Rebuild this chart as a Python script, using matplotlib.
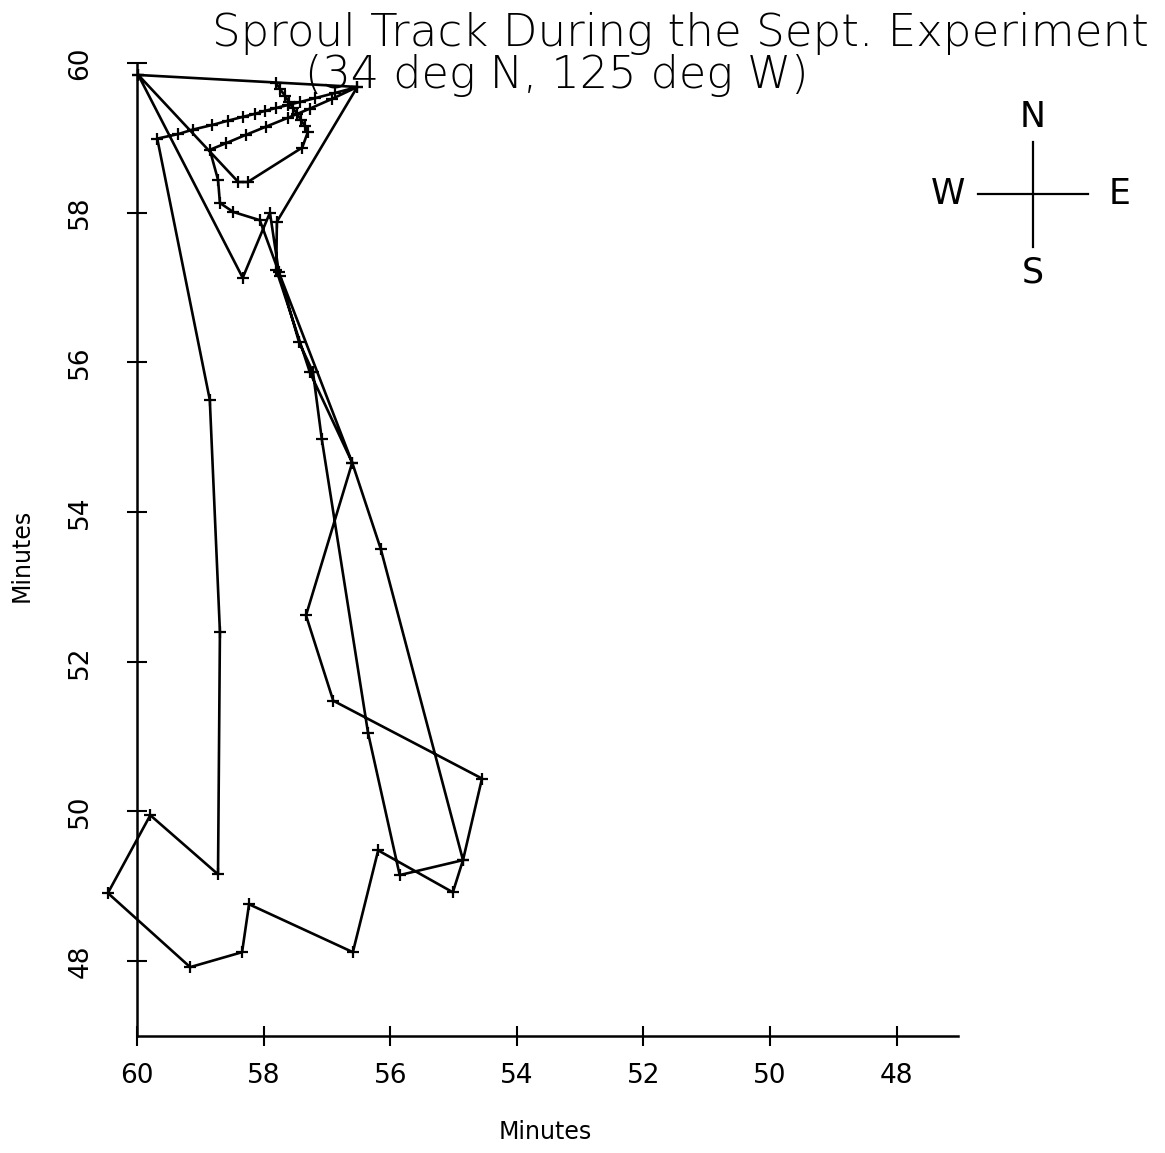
import matplotlib
matplotlib.use("Agg")

import matplotlib.pyplot as plt
from matplotlib.lines import Line2D

# ship position in minutes (west longitude, north latitude), in time order
track_lon = [
    59.98, 58.33, 57.90, 57.76, 57.44, 57.22, 57.08, 56.35, 55.85, 54.85,
    56.15, 56.60, 57.27, 57.80, 57.79, 56.52, 56.92, 57.27, 57.61, 57.96,
    58.28, 58.59, 58.85, 58.72, 58.69, 58.48, 58.06, 57.74, 56.60, 57.33,
    56.90, 54.55, 54.85, 55.01, 56.19, 56.59, 58.23, 58.34, 59.16, 60.46,
    59.79, 58.72, 58.69, 58.85, 59.68, 59.35, 59.12, 58.82, 58.56, 58.33,
    58.14, 57.98, 57.80, 57.61, 57.42, 57.19, 56.87, 56.52, 59.98, 58.40,
    58.25, 57.39, 57.30, 57.35, 57.41, 57.47, 57.54, 57.60, 57.66, 57.74,
    57.80,
]
track_lat = [
    59.84, 57.13, 58.00, 57.21, 56.27, 55.87, 54.97, 51.05, 49.15, 49.35,
    53.51, 54.66, 55.87, 57.24, 57.88, 59.68, 59.52, 59.39, 59.27, 59.15,
    59.04, 58.93, 58.84, 58.44, 58.13, 58.01, 57.90, 57.16, 54.66, 52.62,
    51.48, 50.44, 49.35, 48.92, 49.48, 48.12, 48.76, 48.12, 47.92, 48.91,
    49.95, 49.16, 52.40, 55.50, 58.99, 59.05, 59.11, 59.17, 59.23, 59.28,
    59.32, 59.36, 59.40, 59.44, 59.48, 59.53, 59.60, 59.68, 59.84, 58.41,
    58.41, 58.87, 59.08, 59.16, 59.24, 59.32, 59.40, 59.48, 59.56, 59.65,
    59.73,
]

x_ticks = [60, 58, 56, 54, 52, 50, 48]
y_ticks = [48, 50, 52, 54, 56, 58, 60]

W, H = 1165, 1153
fig = plt.figure(figsize=(W / 100, H / 100), dpi=100)
ax = fig.add_axes([137 / W, 1 - 1036 / H, 821 / W, 973 / H])

ax.plot(track_lon, track_lat, color="black", lw=1.9, marker="+",
        ms=8, mew=1.6, clip_on=False)

ax.set_xlim(60, 47.03)
ax.set_ylim(47.0, 60)
ax.set_xticks(x_ticks)
ax.set_yticks(y_ticks)
ax.set_xticklabels([str(v) for v in x_ticks])
ax.set_yticklabels([str(v) for v in y_ticks], rotation=90, va="center")

for side in ["top", "right"]:
    ax.spines[side].set_visible(False)
for side in ["left", "bottom"]:
    ax.spines[side].set_linewidth(1.8)

ax.tick_params(direction="inout", length=15, width=1.5, labelsize=19,
               pad=12)
ax.tick_params(axis="y", pad=24)

# axis titles placed in figure pixels
fig.text(545 / W, 1 - 1132 / H, "Minutes", ha="center", va="center",
         fontsize=17)
fig.text(22 / W, 1 - 555 / H, "Minutes", ha="center", va="center",
         fontsize=17, rotation=90)

fig.text(680 / W, 1 - 46 / H, "Sproul Track During the Sept. Experiment",
         ha="center", va="baseline", fontsize=32.5, fontweight="light")
fig.text(557 / W, 1 - 88 / H, "(34 deg N, 125 deg W)",
         ha="center", va="baseline", fontsize=32, fontweight="light")

# compass rose
cx, cy = 1033, 194
fig.add_artist(Line2D([978 / W, 1088 / W], [1 - cy / H, 1 - cy / H],
                      color="black", lw=1.6))
fig.add_artist(Line2D([cx / W, cx / W], [1 - 142 / H, 1 - 247 / H],
                      color="black", lw=1.6))
fig.text(cx / W, 1 - 117 / H, "N", ha="center", va="center", fontsize=25)
fig.text(cx / W, 1 - 273 / H, "S", ha="center", va="center", fontsize=25)
fig.text(948 / W, 1 - cy / H, "W", ha="center", va="center", fontsize=25)
fig.text(1120 / W, 1 - cy / H, "E", ha="center", va="center", fontsize=25)

fig.savefig("out.png", dpi=100, facecolor="white")
